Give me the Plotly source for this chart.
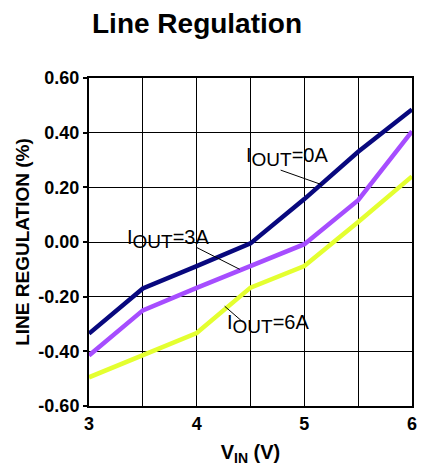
import plotly.graph_objects as go

# Input voltage sweep (V)
vin = [3, 3.5, 4, 4.5, 5, 5.5, 6]

# Line regulation (%) at each load current
reg_0a = [-0.335, -0.17, -0.088, -0.005, 0.157, 0.33, 0.485]
reg_3a = [-0.415, -0.25, -0.168, -0.088, -0.008, 0.153, 0.405]
reg_6a = [-0.495, -0.415, -0.333, -0.167, -0.088, 0.073, 0.24]

series_names = ["IOUT=0A", "IOUT=3A", "IOUT=6A"]
series_colors = ["#08087e", "#a64dff", "#e4ff30"]

x_ticks = [3, 4, 5, 6]
x_ticktext = ["3", "4", "5", "6"]
x_half_grid = [3.5, 4.5, 5.5]
y_ticks = [-0.6, -0.4, -0.2, 0.0, 0.2, 0.4, 0.6]
y_ticktext = ["-0.60", "-0.40", "-0.20", "0.00", "0.20", "0.40", "0.60"]

FONT = "Liberation Sans, Arial, Helvetica, sans-serif"

fig = go.Figure()
for name, ys, color in zip(series_names, [reg_0a, reg_3a, reg_6a], series_colors):
    fig.add_trace(go.Scatter(x=vin, y=ys, mode="lines", name=name,
                             line=dict(color=color, width=4.5)))

def curve_label(text, x, y, x0, y0, x1, y1):
    # label text plus a thin leader line toward its curve
    fig.add_annotation(x=x, y=y, xref="x", yref="y", text=text, showarrow=False,
                       xanchor="left", yanchor="middle",
                       font=dict(family=FONT, size=20, color="black"))
    fig.add_shape(type="line", x0=x0, y0=y0, x1=x1, y1=y1, xref="x", yref="y",
                  line=dict(color="black", width=1))

sub = "<sub><span style='font-size:19px'>OUT</span></sub>"
curve_label("I" + sub + "=0A", 4.44, 0.31, 4.78, 0.263, 5.16, 0.21)
curve_label("I" + sub + "=3A", 3.33, 0.01, 4.0, -0.02, 4.4, -0.10)
curve_label("I" + sub + "=6A", 4.26, -0.30, 4.26, -0.235, 4.43, -0.293)

fig.update_layout(
    width=422, height=468,
    margin=dict(l=89, r=5, t=78, b=62),
    paper_bgcolor="white", plot_bgcolor="white",
    showlegend=False,
    font=dict(family=FONT, color="black"),
    title=dict(text="<b>Line Regulation</b>", x=197 / 422, xanchor="center",
               xref="container", y=1 - 23 / 468, yref="container", yanchor="middle",
               font=dict(family=FONT, size=28, color="black")),
)

fig.update_xaxes(
    range=[3, 6], tickvals=x_ticks, ticktext=x_ticktext,
    showgrid=True, gridcolor="black", gridwidth=1.3,
    minor=dict(tickvals=x_half_grid, showgrid=True, gridcolor="black",
               gridwidth=1.3, ticks=""),
    showline=True, linecolor="black", linewidth=2, mirror=True,
    ticks="", zeroline=False,
    tickfont=dict(family=FONT, size=18, color="black", weight="bold"),
    title=dict(text="<b>V<sub>IN</sub> (V)</b>", standoff=12,
               font=dict(family=FONT, size=20, color="black")),
)
fig.update_yaxes(
    range=[-0.6, 0.6], tickvals=y_ticks, ticktext=y_ticktext,
    showgrid=True, gridcolor="black", gridwidth=1.3,
    showline=True, linecolor="black", linewidth=2, mirror=True,
    ticks="outside", ticklen=4, tickcolor="black", tickwidth=1.5,
    zeroline=False,
    tickfont=dict(family=FONT, size=18, color="black", weight="bold"),
    title=dict(text="<b>LINE REGULATION (%)</b>", standoff=4,
               font=dict(family=FONT, size=19, color="black")),
)

fig.write_html("out.html")
